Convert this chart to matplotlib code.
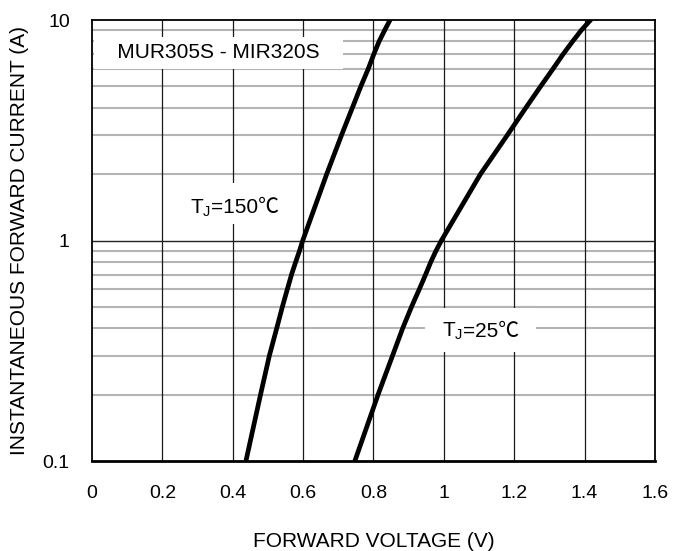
import numpy as np
import matplotlib.pyplot as plt
from matplotlib.patches import Rectangle

# -----------------------------
# DATA
# -----------------------------
i_pts = [0.1, 0.2, 0.3, 0.4, 0.5, 0.6, 0.7, 0.8, 0.9,
         1.0, 2.0, 3.0, 4.0, 5.0, 6.0, 7.0, 8.0, 9.0, 10.0]

v_150 = [0.4375, 0.479, 0.504, 0.525, 0.541, 0.555, 0.567, 0.579, 0.590,
         0.599, 0.667, 0.709, 0.740, 0.764, 0.785, 0.801, 0.816, 0.832, 0.847]

v_25 = [0.747, 0.813, 0.854, 0.883, 0.908, 0.930, 0.948, 0.963, 0.978,
        0.993, 1.104, 1.180, 1.233, 1.275, 1.310, 1.339, 1.366, 1.391, 1.417]

x_ticks = [0, 0.2, 0.4, 0.6, 0.8, 1.0, 1.2, 1.4, 1.6]
x_labels = ["0", "0.2", "0.4", "0.6", "0.8", "1", "1.2", "1.4", "1.6"]
y_ticks = [0.1, 1, 10]
y_labels = ["0.1", "1", "10"]

plt.rcParams["font.family"] = ["Liberation Sans", "Noto Sans CJK SC", "DejaVu Sans"]
plt.rcParams["mathtext.fontset"] = "custom"
plt.rcParams["mathtext.rm"] = "Liberation Sans"
plt.rcParams["mathtext.it"] = "Liberation Sans"

fig = plt.figure(figsize=(6.88, 5.51), dpi=100)
ax = fig.add_axes([0.1337, 0.1633, 0.8183, 0.8004])

ax.set_yscale("log")
ax.set_xlim(0, 1.6)
ax.set_ylim(0.1, 10)

# grid
minor = [m * d for d in (0.1, 1) for m in range(2, 10)]
for y in minor:
    ax.axhline(y, color="#b4b4b4", lw=1.5, zorder=1)
ax.axhline(1, color="#222222", lw=1.0, zorder=1)
for x in x_ticks[1:-1]:
    ax.axvline(x, color="#1a1a1a", lw=0.9, zorder=1)

# curves
ax.plot(v_150, i_pts, color="black", lw=3.4, zorder=4, solid_joinstyle="round")
ax.plot(v_25, i_pts, color="black", lw=3.4, zorder=4, solid_joinstyle="round")


def tj_label(x, y, temp, box):
    # white patch that blanks the grid behind the label
    x0, x1, y0, y1 = box
    ax.add_patch(Rectangle((x0, y0), x1 - x0, y1 - y0, fc="white", ec="none", zorder=3))
    t1 = ax.text(x, y, r"T$_\mathrm{J}$", fontsize=15, ha="left",
                 va="baseline", zorder=5)
    ax.annotate(f"={temp}℃", xy=(1, y), xycoords=(t1, "data"), fontsize=15,
                ha="left", va="baseline", zorder=5)


ax.text(0.36, 7.1, "   MUR305S - MIR320S   ", fontsize=15, ha="center", va="center",
        zorder=3, bbox=dict(boxstyle="square,pad=0.3", fc="white", ec="none"))
tj_label(0.278, 1.33, "150", (0.236, 0.565, 1.19, 1.82))
tj_label(0.994, 0.365, "25", (0.946, 1.261, 0.312, 0.494))

ax.set_xticks(x_ticks)
ax.set_xticklabels(x_labels)
ax.set_yticks(y_ticks)
ax.set_yticklabels(y_labels)
ax.minorticks_off()
ax.tick_params(axis="both", length=0, labelsize=14)
ax.tick_params(axis="x", pad=17)
ax.tick_params(axis="y", pad=16)

for side in ("left", "right", "top"):
    ax.spines[side].set_linewidth(1.3)
ax.spines["bottom"].set_linewidth(2.0)

ax.set_xlabel("FORWARD VOLTAGE (V)", fontsize=15, labelpad=22)
ax.set_ylabel("INSTANTANEOUS FORWARD CURRENT (A)", fontsize=15, labelpad=10)

fig.savefig("out.png", dpi=100)
